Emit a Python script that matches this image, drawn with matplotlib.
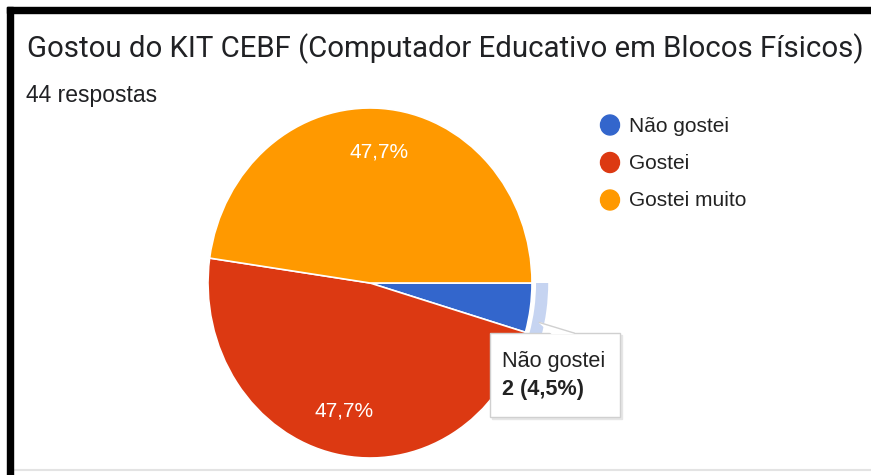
import matplotlib
matplotlib.use("Agg")
import matplotlib.pyplot as plt
from matplotlib.patches import Wedge, Rectangle, Ellipse
import numpy as np

title = "Gostou do KIT CEBF (Computador Educativo em Blocos Físicos)"
subtitle = "44 respostas"
categories = ["Não gostei", "Gostei", "Gostei muito"]
counts = [2, 21, 21]
colors = ["#3366cc", "#dc3912", "#ff9900"]

W, H = 871, 475
fig = plt.figure(figsize=(W / 100, H / 100), dpi=100)
fig.patch.set_facecolor("white")

# pie axes: ellipse spanning x 208..532, y 108..458 (pixels)
cx0, cx1, cy0, cy1 = 208, 532, 108, 458
ax = fig.add_axes([cx0 / W, 1 - cy1 / H, (cx1 - cx0) / W, (cy1 - cy0) / H])
ax.set_zorder(1)

# overlay axes in pixel coordinates (y downwards), drawn above the pie
ov = fig.add_axes([0, 0, 1, 1])
ov.set_zorder(2)
ov.patch.set_alpha(0)
ov.set_xlim(0, W)
ov.set_ylim(H, 0)
ov.axis("off")

renderer = fig.canvas.get_renderer()


def fit(t, target_w):
    fs = t.get_fontsize()
    for _ in range(3):
        bb = t.get_window_extent(renderer=renderer)
        fs *= target_w / bb.width
        t.set_fontsize(fs)
    return t


# frame lines (screenshot border)
ov.add_patch(Rectangle((7, 7), W - 7, 6, color="black", zorder=5))
ov.add_patch(Rectangle((7, 7), 6, H - 7, color="black", zorder=5))
ov.plot([13, W], [470, 470], color="#e3e3e3", lw=1.5, zorder=4)

t1 = ov.text(27, 57, title, fontsize=20, family="Roboto", color="#202124",
             va="baseline", ha="left")
fit(t1, 839)
t2 = ov.text(26, 102, subtitle, fontsize=12, family="Liberation Sans", color="#202124",
             va="baseline", ha="left")
fit(t2, 131)

total = sum(counts)


def pct_fmt(p):
    return ("%.1f%%" % p).replace(".", ",") if p > 10 else ""


wedges, texts, autotexts = ax.pie(
    counts, colors=colors, startangle=0, counterclock=False,
    autopct=pct_fmt, pctdistance=0.75,
    wedgeprops=dict(edgecolor="white", linewidth=1.2),
    textprops=dict(color="white", fontsize=15, family="Liberation Sans"),
)
ax.set_aspect("auto")
ax.set_xlim(-1, 1)
ax.set_ylim(-1, 1)
ax.axis("off")
for w in wedges:
    w.set_clip_on(False)

# highlight ring around "Não gostei"
th1 = 360 - counts[0] / total * 360
ring = Wedge((0, 0), 1.10, th1, 360, width=0.075, facecolor="#c6d4f1",
             edgecolor="none", clip_on=False, zorder=3)
ax.add_patch(ring)

# legend
for i, (lab, c) in enumerate(zip(categories, colors)):
    y = 125 + i * 37.5
    ov.add_patch(Ellipse((610, y), 19, 20, color=c, zorder=6))
    ov.text(629, y + 1, lab, fontsize=15, family="Liberation Sans", color="#222222",
            va="center", ha="left", zorder=6)

# tooltip
bx0, by0, bx1, by1 = 490, 333, 620, 417
ov.add_patch(Rectangle((bx0 + 2, by0 + 2), bx1 - bx0, by1 - by0, color="#e6e6e6", zorder=7))
ov.add_patch(Rectangle((bx0, by0), bx1 - bx0, by1 - by0, facecolor="white",
                       edgecolor="#d0d0d0", lw=1, zorder=8))
# pointer toward the highlighted slice
mid = np.deg2rad((th1 + 360) / 2 - 4)
ax_x = 370 + 1.07 * 162 * np.cos(mid)
ax_y = 283 - 1.07 * 175 * np.sin(mid)
ov.fill([ax_x, 552, 574], [ax_y, by0 + 0.5, by0 + 0.5], color="white", zorder=9)
ov.plot([ax_x, 574], [ax_y, by0], color="#d0d0d0", lw=1, zorder=9)
tt1 = ov.text(502, 367, categories[0], fontsize=15, family="Liberation Sans",
              color="#222222", va="baseline", ha="left", zorder=10)
fit(tt1, 103)
tt2 = ov.text(502, 395, "%d (%s)" % (counts[0], ("%.1f%%" % (counts[0] / total * 100)).replace(".", ",")),
              fontsize=tt1.get_fontsize(), family="Liberation Sans", fontweight="bold",
              color="#222222", va="baseline", ha="left", zorder=10)

fig.savefig("out.png", dpi=100, facecolor="white")
